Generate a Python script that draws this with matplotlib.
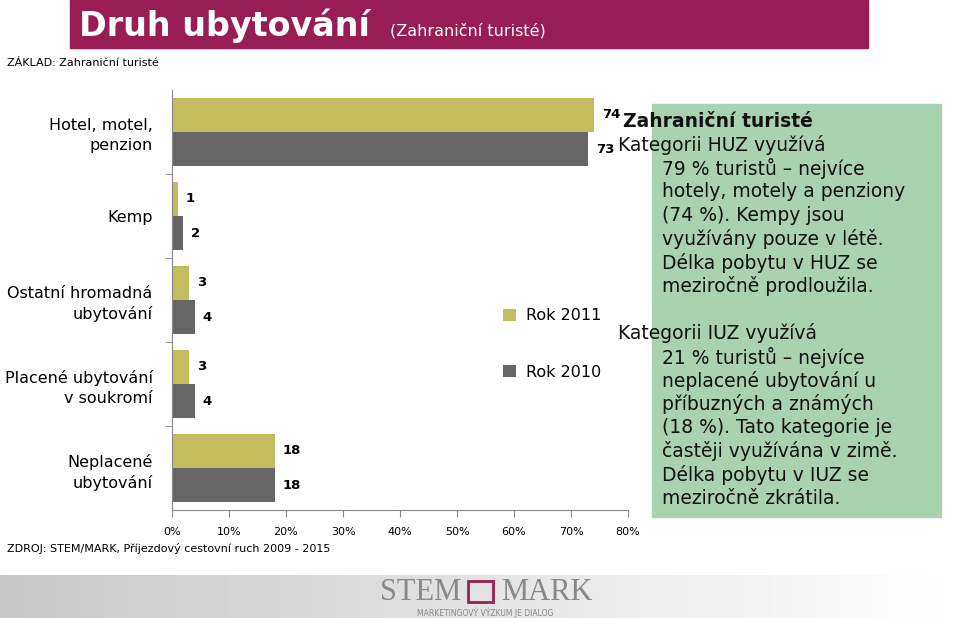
import matplotlib.pyplot as plt
import numpy as np
from matplotlib.patches import Rectangle

plt.rcParams['font.family'] = ['DejaVu Sans']

categories = ['Hotel, motel,\npenzion', 'Kemp', 'Ostatní hromadná\nubytování',
              'Placené ubytování\nv soukromí', 'Neplacené\nubytování']
rok_2011 = [74, 1, 3, 3, 18]
rok_2010 = [73, 2, 4, 4, 18]
xticks = [0, 10, 20, 30, 40, 50, 60, 70, 80]
xtick_labels = ['0%', '10%', '20%', '30%', '40%', '50%', '60%', '70%', '80%']

OLIVE = '#C3BD5F'
GRAY = '#666666'

W, H = 960, 618
fig = plt.figure(figsize=(9.6, 6.18), dpi=100)

def fx(px):
    return px / W

def fy(py):
    return 1 - py / H

# title banner
fig.patches.append(Rectangle((fx(70), fy(48)), fx(868) - fx(70), fy(0) - fy(48),
                             transform=fig.transFigure, color='#981D55', zorder=0))
fig.text(fx(79), fy(26), 'Druh ubytování', color='white', fontsize=24,
         fontweight='bold', va='center', ha='left')
fig.text(fx(390), fy(31), '(Zahraniční turisté)', color='white', fontsize=11.5,
         va='center', ha='left')
fig.text(fx(7), fy(63), 'ZÁKLAD: Zahraniční turisté', fontsize=8, va='center')

# chart
ax = fig.add_axes([fx(172), fy(510), fx(628) - fx(172), fy(90) - fy(510)])
y = np.arange(len(categories))
h = 0.41
b1 = ax.barh(y - h / 2, rok_2011, height=h, color=OLIVE, label='Rok 2011')
b2 = ax.barh(y + h / 2, rok_2010, height=h, color=GRAY, label='Rok 2010')
for bars, vals in ((b1, rok_2011), (b2, rok_2010)):
    for bar, v in zip(bars, vals):
        ax.text(bar.get_width() + 1.4, bar.get_y() + bar.get_height() / 2, str(v),
                fontsize=9.5, fontweight='bold', va='center', ha='left')

ax.set_xlim(0, 80)
ax.set_ylim(len(categories) - 0.5, -0.5)
ax.set_xticks(xticks)
ax.set_xticklabels(xtick_labels, fontsize=8)
ax.set_yticks(y)
ax.set_yticklabels(categories, fontsize=11.5, linespacing=1.4)
ax.set_yticks(np.arange(len(categories) - 1) + 0.5, minor=True)
ax.tick_params(axis='y', which='major', length=0, pad=14)
ax.tick_params(axis='y', which='minor', length=5, color='#888888')
ax.tick_params(axis='x', length=5, color='#888888', pad=7)
for lab in ax.get_yticklabels():
    lab.set_horizontalalignment('right')
for s in ('top', 'right'):
    ax.spines[s].set_visible(False)
ax.spines['left'].set_color('#888888')
ax.spines['bottom'].set_color('#888888')

fig.legend(handles=[b1, b2], loc='upper left', bbox_to_anchor=(fx(489), fy(294)),
           frameon=False, fontsize=11.5, handlelength=0.8, handleheight=0.8,
           handletextpad=0.6, labelspacing=2.6)

fig.text(fx(7), fy(548), 'ZDROJ: STEM/MARK, Příjezdový cestovní ruch 2009 - 2015',
         fontsize=8, va='center')

# green note box
fig.patches.append(Rectangle((fx(652), fy(517)), fx(941) - fx(652), fy(104) - fy(517),
                             transform=fig.transFigure, color='#A9D2B1', zorder=0))
notes = [
    (623, 'Zahraniční turisté', True),
    (618, 'Kategorii HUZ využívá', False),
    (662, '79 % turistů – nejvíce', False),
    (662, 'hotely, motely a penziony', False),
    (662, '(74 %). Kempy jsou', False),
    (662, 'využívány pouze v létě.', False),
    (662, 'Délka pobytu v HUZ se', False),
    (662, 'meziročně prodloužila.', False),
    (618, '', False),
    (618, 'Kategorii IUZ využívá', False),
    (662, '21 % turistů – nejvíce', False),
    (662, 'neplacené ubytování u', False),
    (662, 'příbuzných a známých', False),
    (662, '(18 %). Tato kategorie je', False),
    (662, 'častěji využívána v zimě.', False),
    (662, 'Délka pobytu v IUZ se', False),
    (662, 'meziročně zkrátila.', False),
]
for i, (xp, line, bold) in enumerate(notes):
    fig.text(fx(xp), fy(121 + i * 23.6), line, fontsize=13.5,
             fontweight='bold' if bold else 'normal', va='center', ha='left',
             color='#111111')

# footer band with logo
grad = np.linspace(0.78, 1.0, 256).reshape(1, -1)
fax = fig.add_axes([0, 0, 1, fy(575)])
fax.imshow(grad, cmap='gray', vmin=0, vmax=1, aspect='auto', extent=(0, 1, 0, 1))
fax.set_axis_off()
fax.text(0.48, 0.6, 'STEM', fontsize=22, family='Liberation Serif', color='#888888',
         ha='right', va='center', transform=fax.transAxes)
fax.add_patch(Rectangle((0.487, 0.38), 0.027, 0.48, fill=False, edgecolor='#981D55',
                        linewidth=2, transform=fax.transAxes))
fax.text(0.522, 0.6, 'MARK', fontsize=22, family='Liberation Serif', color='#888888',
         ha='left', va='center', transform=fax.transAxes)
fax.text(0.505, 0.13, 'MARKETINGOVÝ VÝZKUM JE DIALOG', fontsize=5.5, color='#888888',
         ha='center', va='center', transform=fax.transAxes)

fig.savefig('out.png', dpi=100)
